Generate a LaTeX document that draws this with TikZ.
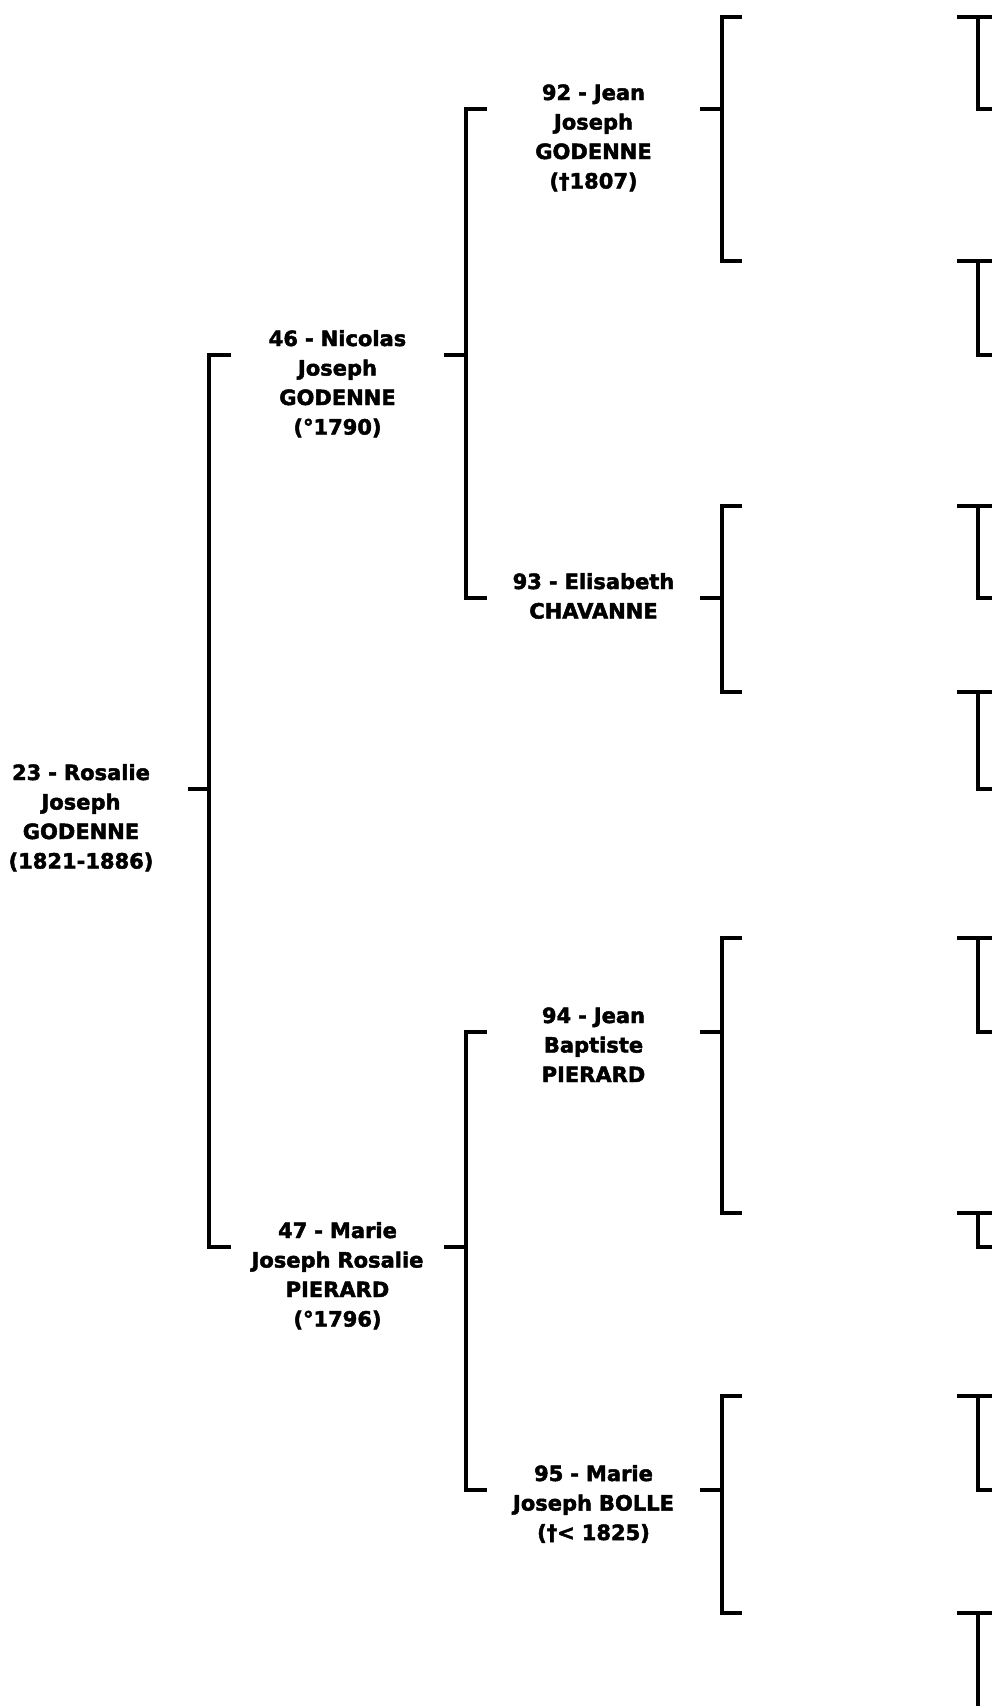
\documentclass[tikz,border=0pt]{standalone}
\usepackage{fontspec}
\setmainfont{DejaVu Sans}[BoldFeatures={FakeBold=2.2}]

\begin{document}
\begin{tikzpicture}[x=1pt,y=-1pt,
  person/.style={text width=213pt,align=center,inner sep=0pt,anchor=base,
    font=\bfseries\fontsize{21pt}{29.5pt}\selectfont},
  link/.style={line width=4.4pt,line join=miter}]
  \useasboundingbox (0,0) rectangle (992,1706);
  \node[person] (p23) at (81,780)    {23 - Rosalie\\Joseph\\GODENNE\\(1821-1886)};
  \node[person] (p46) at (337.5,346) {46 - Nicolas\\Joseph\\GODENNE\\(°1790)};
  \node[person] (p47) at (337.5,1238){47 - Marie\\Joseph Rosalie\\PIERARD\\(°1796)};
  \node[person] (p92) at (593.5,100) {92 - Jean\\Joseph\\GODENNE\\(†1807)};
  \node[person] (p93) at (593.5,589) {93 - Elisabeth\\CHAVANNE};
  \node[person] (p94) at (593.5,1023){94 - Jean\\Baptiste\\PIERARD};
  \node[person] (p95) at (593.5,1481){95 - Marie\\Joseph BOLLE\\(†< 1825)};
  % stub from each person to the bracket of its parents
  \foreach \p in {23,46,47,92,93,94,95}
    \draw[link] ([yshift=-9pt]p\p.base east) -- ++(21.5,0) coordinate (v\p);
  \draw[link] ([yshift=-9pt]p46.base west) -| (v23) |- ([yshift=-9pt]p47.base west);
  \draw[link] ([yshift=-9pt]p92.base west) -| (v46) |- ([yshift=-9pt]p93.base west);
  \draw[link] ([yshift=-9pt]p94.base west) -| (v47) |- ([yshift=-9pt]p95.base west);
  % the unnamed generation on the right
  \foreach \p/\t/\b in {92/17/261,93/506/692,94/938/1213,95/1396/1613}
    \draw[link] (742,\t) -| (v\p) |- (742,\b);
  \foreach \t/\b in {17/109,261/355,506/598,692/789,938/1032,1213/1247,1396/1490}
    \draw[link] (957,\t) -- (994,\t) (978,\t) |- (994,\b);
  \draw[link] (957,1613) -- (994,1613) (978,1613) -- (978,1710);
\end{tikzpicture}
\end{document}
